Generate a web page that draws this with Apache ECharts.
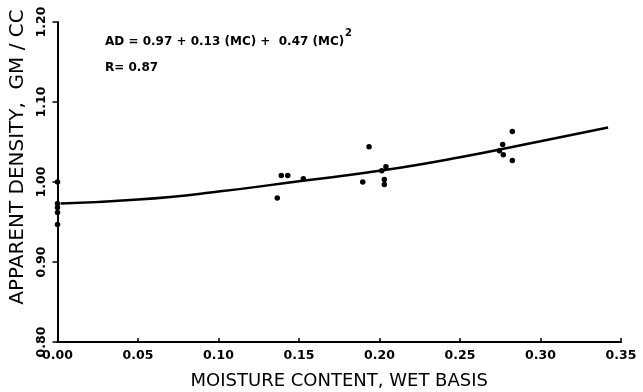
<!DOCTYPE html>
<html>
<head>
<meta charset="utf-8">
<script src="https://cdn.jsdelivr.net/npm/echarts@6/dist/echarts.min.js"></script>
<style>html,body{margin:0;padding:0;background:#fff}#c{width:643px;height:392px}</style>
</head>
<body>
<div id="c"></div>
<script>
// Observed points: [moisture content, apparent density]
const pointsMC = [0, 0, 0, 0, 0, 0.1365, 0.139, 0.143, 0.1527, 0.1896, 0.1935, 0.2014, 0.203, 0.203, 0.204, 0.2745, 0.2765, 0.2769, 0.2825, 0.2825];
const pointsAD = [1.000, 0.973, 0.968, 0.962, 0.947, 0.980, 1.008, 1.008, 1.004, 1.000, 1.044, 1.014, 1.003, 0.997, 1.019, 1.039, 1.047, 1.034, 1.063, 1.027];
// Fitted curve
const curveMC = [0.002, 0.05, 0.10, 0.15, 0.20, 0.25, 0.30, 0.342];
const curveAD = [0.973, 0.978, 0.988, 1.001, 1.014, 1.031, 1.051, 1.068];
const xTicks = ['0.00','0.05','0.10','0.15','0.20','0.25','0.30','0.35'];
const yTicks = ['0.80','0.90','1.00','1.10','1.20'];

const FONT = 'DejaVu Sans';
const chart = echarts.init(document.getElementById('c'), null, {renderer:'canvas'});
chart.setOption({
  animation:false,
  backgroundColor:'#fff',
  grid:{left:57.5, right:22, top:22, bottom:50, containLabel:false, outerBoundsMode:'none'},
  xAxis:{
    type:'value', min:0, max:0.35, interval:0.05,
    name:'MOISTURE CONTENT, WET BASIS', nameLocation:'middle', nameGap:30,
    nameTextStyle:{fontFamily:FONT, fontSize:18, color:'#000'},
    axisLine:{lineStyle:{color:'#000', width:2}},
    axisTick:{inside:true, length:4, lineStyle:{color:'#000', width:1.5}},
    splitLine:{show:false},
    axisLabel:{fontFamily:FONT, fontSize:12.5, fontWeight:'bold', color:'#000', margin:7,
      formatter:(v)=>xTicks[Math.round(v/0.05)]}
  },
  yAxis:{
    type:'value', min:0.8, max:1.2, interval:0.1,
    name:'APPARENT DENSITY,  GM / CC', nameLocation:'middle', nameGap:29,
    nameTextStyle:{fontFamily:FONT, fontSize:20, color:'#000', padding:[0,0,0,50]},
    axisLine:{lineStyle:{color:'#000', width:2}},
    axisTick:{inside:false, length:5, lineStyle:{color:'#000', width:1.5}},
    splitLine:{show:false},
    axisLabel:{fontFamily:FONT, fontSize:12.5, fontWeight:'bold', color:'#000', rotate:90, margin:9,
      formatter:(v)=>yTicks[Math.round((v-0.8)/0.1)]}
  },
  series:[
    {type:'line', data:curveMC.map((x,i)=>[x,curveAD[i]]), smooth:true, showSymbol:false,
     lineStyle:{color:'#000', width:2.5}, z:2},
    {type:'scatter', data:pointsMC.map((x,i)=>[x,pointsAD[i]]), symbolSize:5.5,
     itemStyle:{color:'#000', opacity:1}, z:3}
  ],
  graphic:[
    {type:'text', left:105, top:36, style:{text:'AD = 0.97 + 0.13 (MC) +  0.47 (MC)', fontFamily:FONT, fontSize:12, fontWeight:'bold', fill:'#000'}},
    {type:'text', left:345, top:28, style:{text:'2', fontFamily:FONT, fontSize:10, fontWeight:'bold', fill:'#000'}},
    {type:'text', left:105, top:62, style:{text:'R= 0.87', fontFamily:FONT, fontSize:12, fontWeight:'bold', fill:'#000'}}
  ]
});
</script>
</body>
</html>
